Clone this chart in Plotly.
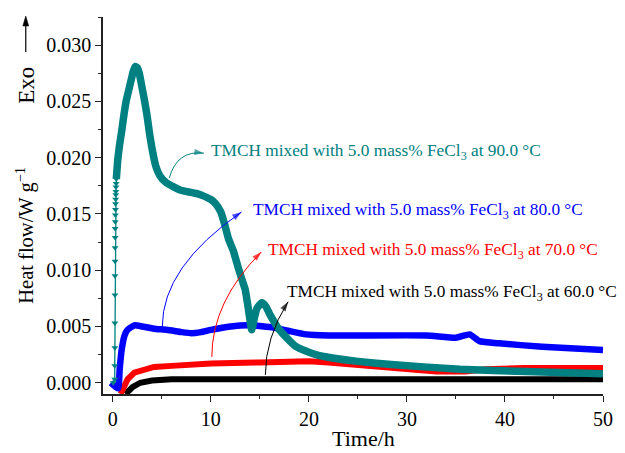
import plotly.graph_objects as go

# ---- isothermal heat-flow curves, TMCH + 5.0 mass% FeCl3 ----
# 90.0 °C: steep start-up segment (individual samples drawn as markers)
t90_rise = [0.05, 0.20, 0.20, 0.21, 0.21, 0.22, 0.22, 0.23, 0.23, 0.24, 0.24,
            0.25, 0.26, 0.27, 0.28, 0.29, 0.30, 0.31, 0.32, 0.34, 0.36]
q90_rise = [0.0000, 0.0003, 0.0015, 0.0031, 0.0053, 0.0078, 0.0095, 0.0108, 0.0120,
            0.0129, 0.0137, 0.0143, 0.0149, 0.0154, 0.0159, 0.0163, 0.0167, 0.0170,
            0.0174, 0.0177, 0.0181]
# 90.0 °C: remainder of the run
t90 = [0.36, 0.45, 0.54, 0.70, 0.88, 1.10, 1.38, 1.65, 1.90, 2.10, 2.29, 2.50, 2.70,
       2.90, 3.23, 3.50, 3.74, 4.05, 4.40, 4.80, 5.42, 6.20, 6.94, 8.60, 9.97, 10.5,
       11.0, 11.4, 11.8, 12.3, 12.8, 13.2, 13.5, 13.84, 14.17, 14.45, 14.7, 15.2, 15.6,
       16.0, 17.0, 18.7, 20.7, 22.4, 25.0, 28.7, 35.4, 42.1, 50.0]
q90 = [0.0181, 0.0192, 0.0201, 0.0212, 0.0222, 0.0236, 0.0251, 0.0261, 0.0270, 0.0277,
       0.0281, 0.0280, 0.0275, 0.0266, 0.0251, 0.0237, 0.0222, 0.0206, 0.0192, 0.0184,
       0.0178, 0.0174, 0.0171, 0.0168, 0.0163, 0.0159, 0.0152, 0.0141, 0.0128, 0.0117,
       0.0102, 0.0091, 0.0083, 0.0065, 0.0047, 0.0058, 0.0066, 0.0071, 0.0068, 0.0061,
       0.0047, 0.0032, 0.0025, 0.0022, 0.0019, 0.0016, 0.0012, 0.0010, 0.0008]

# 80.0 °C
t80 = [-0.2, 0.55, 0.70, 0.90, 1.20, 1.50, 2.20, 3.0, 4.2, 5.5, 7.0, 8.0, 9.0, 10.0,
       12.0, 14.0, 16.4, 18.0, 19.7, 22.0, 32.0, 35.0, 36.4, 37.4, 39.4, 43.8, 50.0]
q80 = [0.0000, -0.0005, 0.0012, 0.0029, 0.0042, 0.0047, 0.0051, 0.0050, 0.0048, 0.0047,
       0.0045, 0.0044, 0.0045, 0.0047, 0.0050, 0.0051, 0.0049, 0.0046, 0.0043, 0.0042,
       0.0042, 0.0040, 0.0043, 0.0037, 0.0035, 0.0032, 0.0029]

# 70.0 °C
t70 = [0.8, 1.1, 1.5, 2.2, 3.0, 4.2, 6.0, 10.0, 15.0, 20.0, 22.0, 27.0, 30.0, 33.0,
       36.0, 38.0, 42.0, 50.0]
q70 = [-0.0010, -0.0003, 0.0003, 0.0009, 0.0011, 0.0014, 0.0015, 0.0017, 0.0018,
       0.0019, 0.0018, 0.0014, 0.0012, 0.0010, 0.0010, 0.0012, 0.0013, 0.0013]

# 60.0 °C
t60 = [1.3, 2.0, 2.8, 4.0, 6.0, 10.0, 20.0, 30.0, 40.0, 50.0]
q60 = [-0.0010, -0.0004, 0.0000, 0.0002, 0.0003, 0.0003, 0.0003, 0.0003, 0.0003, 0.0003]

x_ticks = [0, 10, 20, 30, 40, 50]
y_ticks = [0.000, 0.005, 0.010, 0.015, 0.020, 0.025, 0.030]

TEAL = "#008080"
FONT = "Liberation Serif, Times New Roman, serif"

# label text, its anchor, and the curved leader (start, control, end) per run
label_base = "TMCH mixed with 5.0 mass% FeCl<sub>3</sub> at {} °C"
labels = [
    # temp, colour, text (x, y), leader P0, C, P2
    ("90.0", TEAL, (9.8, 0.0205), (5.76, 0.0182), (6.57, 0.0207), (9.29, 0.0204)),
    ("80.0", "#0000ff", (14.1, 0.01526), (5.05, 0.0050), (5.05, 0.0103), (13.13, 0.01517)),
    ("70.0", "#ff0000", (15.66, 0.01171), (10.1, 0.0023), (10.1, 0.0072), (15.15, 0.01162)),
    ("60.0", "#000000", (17.58, 0.0080), (15.56, 0.0007), (15.56, 0.0040), (17.88, 0.0072)),
]

fig = go.Figure()

fig.add_trace(go.Scatter(x=t60, y=q60, mode="lines",
                         line=dict(color="#000000", width=6), hoverinfo="skip"))
fig.add_trace(go.Scatter(x=t70, y=q70, mode="lines",
                         line=dict(color="#ff0000", width=6), hoverinfo="skip"))
fig.add_trace(go.Scatter(x=t80, y=q80, mode="lines",
                         line=dict(color="#0000ff", width=6.5, shape="spline",
                                   smoothing=0.4), hoverinfo="skip"))
fig.add_trace(go.Scatter(x=t90_rise, y=q90_rise, mode="lines+markers",
                         line=dict(color=TEAL, width=1.3),
                         marker=dict(symbol="triangle-down", size=6, color=TEAL),
                         hoverinfo="skip"))
fig.add_trace(go.Scatter(x=t90, y=q90, mode="lines",
                         line=dict(color=TEAL, width=7.5, shape="spline", smoothing=0.5),
                         hoverinfo="skip"))

shapes = []
annotations = []
for temp, col, (tx, ty), p0, c, p2 in labels:
    shapes.append(dict(type="path", xref="x", yref="y",
                       path=f"M {p0[0]},{p0[1]} Q {c[0]},{c[1]} {p2[0]},{p2[1]}",
                       line=dict(color=col, width=1)))
    # arrow head at the leader end, oriented along the end tangent
    pre = (p2[0] - 0.06 * (p2[0] - c[0]), p2[1] - 0.06 * (p2[1] - c[1]))
    fig.add_trace(go.Scatter(x=[pre[0], p2[0]], y=[pre[1], p2[1]], mode="markers",
                             marker=dict(symbol="arrow", size=[0, 10], color=col,
                                         angleref="previous", line=dict(width=0)),
                             hoverinfo="skip"))
    annotations.append(dict(x=tx, y=ty, xref="x", yref="y", xanchor="left",
                            yanchor="middle", showarrow=False,
                            text=label_base.format(temp),
                            font=dict(family=FONT, size=17.3, color=col)))

# axis titles
annotations.append(dict(x=0.5208, y=-0.117, xref="paper", yref="paper",
                        text="Time/h", showarrow=False, xanchor="center",
                        yanchor="middle", font=dict(family=FONT, size=22, color="#000")))
annotations.append(dict(x=-0.1545, y=0.4218, xref="paper", yref="paper",
                        text="Heat flow/W g<sup>−1</sup>", textangle=-90,
                        showarrow=False, xanchor="center", yanchor="middle",
                        font=dict(family=FONT, size=20.5, color="#000")))
annotations.append(dict(x=-0.1545, y=0.8196, xref="paper", yref="paper",
                        text="Exo", textangle=-90, showarrow=False,
                        xanchor="center", yanchor="middle",
                        font=dict(family=FONT, size=23, color="#000")))

# exotherm direction arrow (stem + head) beside the y-axis title
ex = -0.15446
shapes.append(dict(type="line", xref="paper", yref="paper",
                   x0=ex, x1=ex, y0=0.9072, y1=0.980,
                   line=dict(color="#000", width=1.2)))
shapes.append(dict(type="path", xref="paper", yref="paper",
                   path=f"M {ex},1.0027 L {ex + 0.0059},0.9761 L {ex - 0.0059},0.9761 Z",
                   fillcolor="#000", line=dict(color="#000", width=0.5)))

axis_common = dict(showline=True, linecolor="#222", linewidth=1.5, ticks="outside",
                   ticklen=6, tickwidth=1.3, tickcolor="#222", showgrid=False,
                   zeroline=False, mirror=False,
                   tickfont=dict(family=FONT, size=20, color="#000"))

fig.update_layout(
    width=625, height=453,
    margin=dict(l=103, r=17, t=17, b=59),
    paper_bgcolor="white", plot_bgcolor="white",
    showlegend=False,
    shapes=shapes, annotations=annotations,
    xaxis=dict(range=[-1, 50], tickvals=x_ticks,
               minor=dict(dtick=5, ticks="outside", ticklen=3, tickcolor="#222",
                          tickwidth=1.2, showgrid=False),
               **axis_common),
    yaxis=dict(range=[-0.001, 0.0325], tickvals=y_ticks, tickformat=".3f",
               minor=dict(dtick=0.0025, tick0=0, ticks="outside", ticklen=3,
                          tickcolor="#222", tickwidth=1.2, showgrid=False),
               **axis_common),
)

fig.write_html("out.html")
